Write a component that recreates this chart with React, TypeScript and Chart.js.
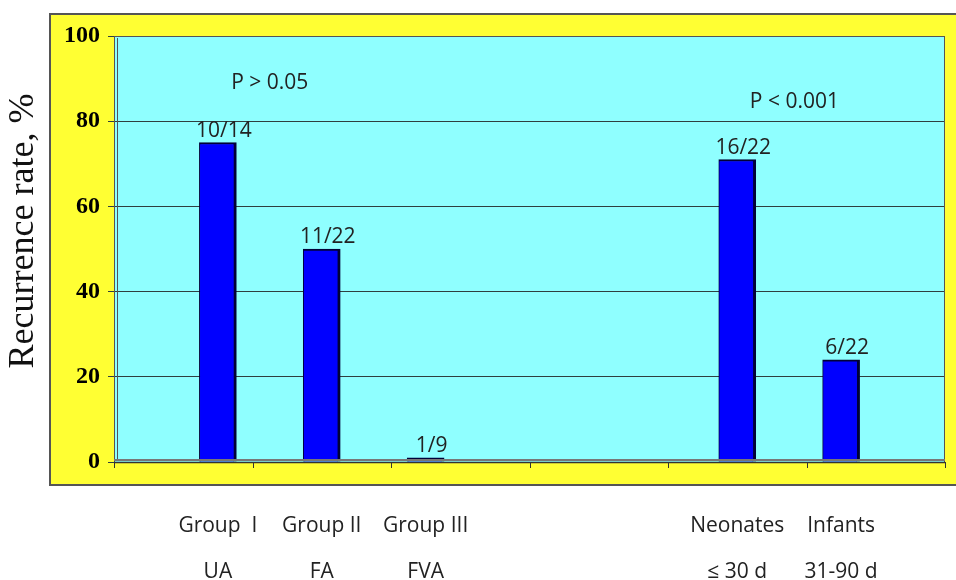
import React, { useEffect, useRef } from "react";
import { Chart, registerables } from "chart.js";

Chart.register(...registerables);

const categories = ["", "Group  I", "Group II", "Group III", "", "", "Neonates", "Infants", ""];
const subLabels = ["", "UA", "FA", "FVA", "", "", "\u2264 30 d", "31-90 d", ""];
const values: (number | null)[] = [null, 75, 50, 1, null, null, 71, 24, null];
const fractions = ["", "10/14", "11/22", "1/9", "", "", "16/22", "6/22", ""];
const yTicks = [0, 20, 40, 60, 80, 100];
const pNotes = [
  { text: "P > 0.05", x: 1.5, y: 89 },
  { text: "P < 0.001", x: 6.55, y: 84.5 },
];
const yTitle = "Recurrence rate, %";

const SANS = "'Open Sans', 'Noto Sans', sans-serif";
const SERIF = "'Liberation Serif', 'DejaVu Serif', serif";

const decor = {
  id: "decor",
  beforeDraw(chart: any) {
    const { ctx, chartArea: a, width } = chart;
    ctx.save();
    ctx.fillStyle = "#FFFF33";
    ctx.fillRect(50, a.top - 22, width, a.bottom + 23 - (a.top - 22));
    ctx.strokeStyle = "#555";
    ctx.lineWidth = 2;
    ctx.strokeRect(50, a.top - 22, width + 10, a.bottom + 23 - (a.top - 22));
    ctx.fillStyle = "#8FFFFF";
    ctx.fillRect(a.left, a.top, a.right - a.left, a.bottom - a.top);
    ctx.restore();
  },
  afterDatasetsDraw(chart: any) {
    const { ctx, chartArea: a, scales } = chart;
    ctx.save();
    ctx.strokeStyle = "#555";
    ctx.lineWidth = 1;
    ctx.strokeRect(a.left + 0.5, a.top + 0.5, a.right - a.left - 1, a.bottom - a.top);
    ctx.beginPath();
    ctx.moveTo(a.left + 3.5, a.top + 2);
    ctx.lineTo(a.left + 3.5, a.bottom - 2);
    ctx.stroke();
    ctx.strokeStyle = "#777";
    ctx.lineWidth = 2;
    ctx.beginPath();
    ctx.moveTo(a.left, a.bottom - 2);
    ctx.lineTo(a.right, a.bottom - 2);
    ctx.stroke();
    ctx.strokeStyle = "#333";
    ctx.lineWidth = 1.5;
    ctx.beginPath();
    ctx.moveTo(a.left, a.bottom + 0.5);
    ctx.lineTo(a.right, a.bottom + 0.5);
    ctx.stroke();
    ctx.lineWidth = 1;
    ctx.strokeStyle = "#333";
    for (let i = 0; i <= 6; i++) {
      const px = Math.round(a.left + (i * (a.right - a.left)) / 6) + 0.5;
      ctx.beginPath();
      ctx.moveTo(px, a.bottom);
      ctx.lineTo(px, a.bottom + 6);
      ctx.stroke();
    }
    const meta = chart.getDatasetMeta(0);
    ctx.fillStyle = "#222";
    ctx.font = `21px ${SANS}`;
    ctx.textAlign = "center";
    ctx.textBaseline = "alphabetic";
    meta.data.forEach((bar: any, i: number) => {
      if (values[i] == null || !fractions[i]) return;
      ctx.fillText(fractions[i], bar.x + 6, bar.y - 6);
    });
    ctx.font = `21px ${SANS}`;
    ctx.textBaseline = "middle";
    pNotes.forEach((n) => {
      ctx.fillText(n.text, scales.x.getPixelForValue(n.x), scales.y.getPixelForValue(n.y));
    });
    ctx.translate(24, 231);
    ctx.rotate(-Math.PI / 2);
    ctx.font = `36px ${SERIF}`;
    ctx.fillStyle = "#111";
    ctx.fillText(yTitle, 0, 0);
    ctx.restore();
  },
};

export default function App() {
  const ref = useRef<HTMLCanvasElement>(null);
  useEffect(() => {
    if (!ref.current) return;
    const chart = new Chart(ref.current, {
      type: "bar",
      data: {
        labels: categories.map((c, i) => [c, subLabels[i]]),
        datasets: [
          {
            data: values as any,
            backgroundColor: "#0000FF",
            borderColor: "#000038",
            borderWidth: { left: 1, top: 2, right: 3, bottom: 0 } as any,
            borderSkipped: false,
            barThickness: 37,
          },
        ],
      },
      options: {
        responsive: false,
        animation: false,
        layout: { padding: { left: 50, top: 36, right: 11, bottom: 0 } },
        plugins: { legend: { display: false }, tooltip: { enabled: false } },
        scales: {
          x: {
            type: "category",
            offset: false,
            grid: { display: false, drawTicks: false },
            border: { display: false },
            ticks: {
              autoSkip: false,
              maxRotation: 0,
              minRotation: 0,
              padding: 41,
              color: "#222",
              font: { family: SANS, size: 21, lineHeight: "46px" } as any,
            },
            afterFit: (s: any) => {
              s.height = 118;
              s.paddingLeft = 0;
              s.paddingRight = 0;
            },
          },
          y: {
            min: 0,
            max: 100,
            afterBuildTicks: (s: any) => {
              s.ticks = yTicks.map((v) => ({ value: v }));
            },
            ticks: {
              color: "#000",
              padding: 8,
              font: { family: SERIF, size: 24, weight: "bold" },
            },
            grid: { color: "#2f3f3f", lineWidth: 1, tickLength: 6, drawTicks: true },
            border: { display: true, color: "#555" },
            afterFit: (s: any) => {
              s.width = 64;
            },
          },
        },
      },
      plugins: [decor],
    });
    return () => chart.destroy();
  }, []);
  return (
    <div style={{ position: "fixed", left: 0, top: 0, width: 956, height: 580, background: "#fff" }}>
      <canvas ref={ref} width={956} height={580} style={{ width: 956, height: 580, display: "block" }} />
    </div>
  );
}
